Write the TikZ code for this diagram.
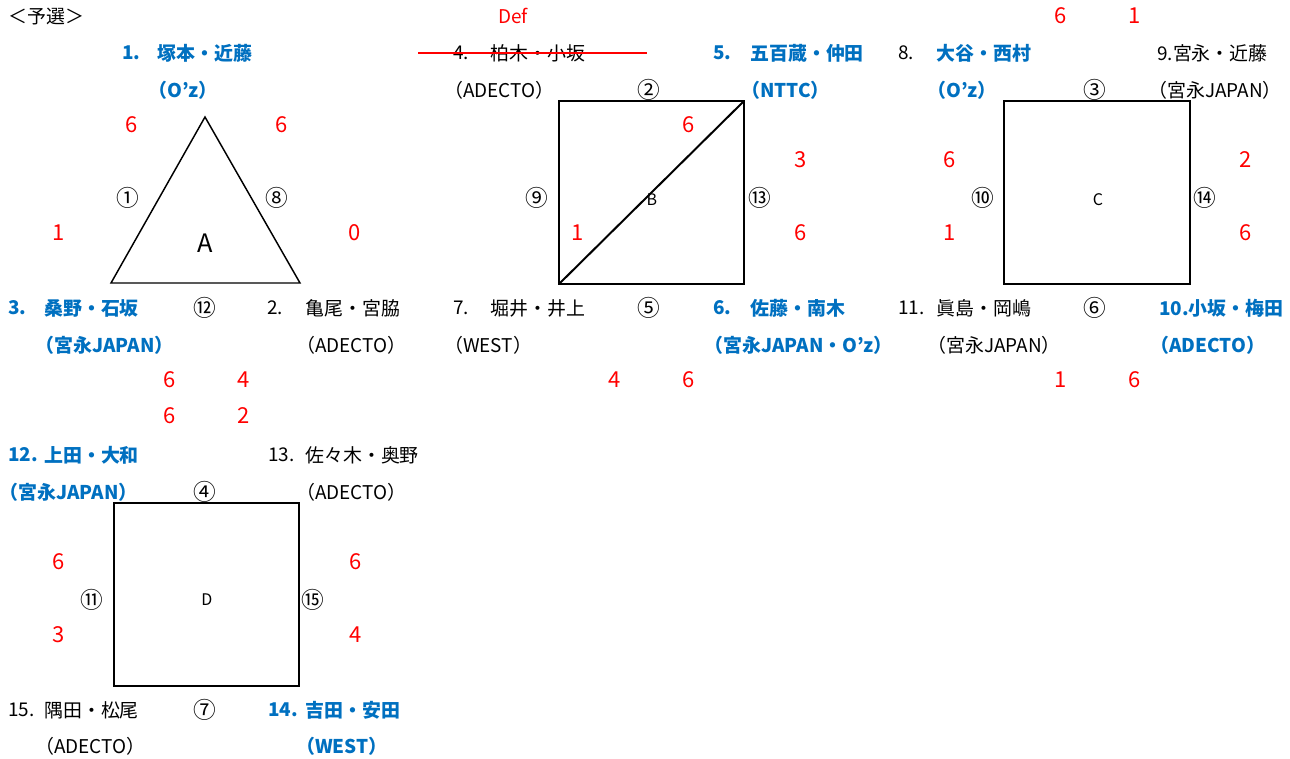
\documentclass[tikz,border=0pt]{standalone}
\usepackage{fontspec}
\setmainfont{Noto Sans CJK JP}
\usetikzlibrary{positioning}
\definecolor{teamBlue}{RGB}{0, 112, 192}
\definecolor{scoreRed}{RGB}{255, 0, 0}

\begin{document}
\begin{tikzpicture}[
    x=0.75pt, y=-0.75pt,
    nameText/.style={anchor=west, inner sep=0pt, text=black, font=\fontsize{14.2}{17}\selectfont},
    winText/.style={nameText, text=teamBlue, font=\fontsize{14.2}{17}\selectfont\bfseries},
    scoreText/.style={inner sep=0pt, text=scoreRed, font=\fontsize{16.5}{19}\selectfont},
    matchNo/.style={inner sep=0pt, text=black, font=\fontsize{17}{19}\selectfont},
    poolName/.style={inner sep=0pt, text=black, font=\fontsize{12}{14}\selectfont},
    boxLine/.style={draw=black, line width=2.2pt}
  ]
    \useasboundingbox (0,0) rectangle (1290,758);
    \node[nameText] (title) at (8,16) {＜予選＞};

    % Pool A: triangle
    \coordinate (aTop) at (205,117);
    \coordinate (aLeft) at (111,283);
    \coordinate (aRight) at (300,283);
    \draw[line width=1.1pt] (aTop) -- (aLeft) -- (aRight) -- cycle;
    \node[poolName, font=\fontsize{19}{21}\selectfont] (poolA) at (205,243) {A};

    \node[winText] (t1num) at (122,53) {1.};
    \node[winText] (t1name) at (157,53) {塚本・近藤};
    \node[winText] (t1team) at (148,90) {（O’z）};
    \node[winText] (t3num) at (8,308) {3.};
    \node[winText] (t3name) at (44,308) {桑野・石坂};
    \node[winText] (t3team) at (35,345) {（宮永JAPAN）};
    \node[nameText] (t2num) at (267,308) {2.};
    \node[nameText] (t2name) at (305,308) {亀尾・宮脇};
    \node[nameText] (t2team) at (296,345) {（ADECTO）};

    \node[matchNo] (m1) at (128,198) {①};
    \node[matchNo] (m8) at (277,198) {⑧};
    \node[matchNo] (m12) at (205,308) {⑫};
    \node[scoreText] (s1a) at (132,125) {6};
    \node[scoreText] (s8a) at (282,125) {6};
    \node[scoreText] (s1b) at (59,233) {1};
    \node[scoreText] (s8b) at (355,233) {0};
    \node[scoreText] (s12a) at (170,380) {6};
    \node[scoreText] (s12b) at (244,380) {4};
    \node[scoreText] (s12c) at (170,416) {6};
    \node[scoreText] (s12d) at (244,416) {2};

    % Pool B: square with diagonal
    \coordinate (bNW) at (559,101);
    \coordinate (bNE) at (744,101);
    \coordinate (bSW) at (559,284);
    \coordinate (bSE) at (744,284);
    \draw[boxLine] (bNW) rectangle (bSE);
    \draw[line width=1.5pt] (bSW) -- (bNE);
    \node[poolName] (poolB) at (652,200) {B};

    \node[scoreText, font=\fontsize{14.2}{17}\selectfont] (def) at (513,16) {Def};
    \node[nameText] (t4num) at (453,53) {4.};
    \node[nameText] (t4name) at (490,53) {柏木・小坂};
    \coordinate (strikeL) at (418,53);
    \coordinate (strikeR) at (647,53);
    \draw[scoreRed, line width=2.2pt] (strikeL) -- (strikeR);
    \node[nameText] (t4team) at (444,90) {（ADECTO）};
    \node[winText] (t5num) at (713,53) {5.};
    \node[winText] (t5name) at (750,53) {五百蔵・仲田};
    \node[winText] (t5team) at (741,90) {（NTTC）};
    \node[nameText] (t7num) at (453,308) {7.};
    \node[nameText] (t7name) at (490,308) {堀井・井上};
    \node[nameText] (t7team) at (444,345) {（WEST）};
    \node[winText] (t6num) at (713,308) {6.};
    \node[winText] (t6name) at (750,308) {佐藤・南木};
    \node[winText] (t6team) at (704,345) {（宮永JAPAN・O'z）};

    \node[matchNo] (m2) at (649,90) {②};
    \node[matchNo] (m9) at (537,198) {⑨};
    \node[matchNo] (m13) at (760,198) {⑬};
    \node[matchNo] (m5) at (649,308) {⑤};
    \node[scoreText] (s2) at (689,125) {6};
    \node[scoreText] (s9) at (578,233) {1};
    \node[scoreText] (s13a) at (801,160) {3};
    \node[scoreText] (s13b) at (801,233) {6};
    \node[scoreText] (s5a) at (615,380) {4};
    \node[scoreText] (s5b) at (689,380) {6};

    % Pool C: square
    \coordinate (cNW) at (1004,101);
    \coordinate (cSE) at (1190,284);
    \draw[boxLine] (cNW) rectangle (cSE);
    \node[poolName] (poolC) at (1098,200) {C};

    \node[nameText] (t8num) at (898,53) {8.};
    \node[winText] (t8name) at (936,53) {大谷・西村};
    \node[winText] (t8team) at (927,90) {（O’z）};
    \node[nameText] (t9name) at (1157,53) {9.宮永・近藤};
    \node[nameText] (t9team) at (1148,90) {（宮永JAPAN）};
    \node[nameText] (t11num) at (898,308) {11.};
    \node[nameText] (t11name) at (936,308) {眞島・岡嶋};
    \node[nameText] (t11team) at (927,345) {（宮永JAPAN）};
    \node[winText] (t10name) at (1159,308) {10.小坂・梅田};
    \node[winText] (t10team) at (1150,345) {（ADECTO）};

    \node[matchNo] (m3) at (1095,90) {③};
    \node[matchNo] (m10) at (983,198) {⑩};
    \node[matchNo] (m14) at (1205,198) {⑭};
    \node[matchNo] (m6) at (1095,308) {⑥};
    \node[scoreText] (s3a) at (1061,16) {6};
    \node[scoreText] (s3b) at (1135,16) {1};
    \node[scoreText] (s10a) at (950,160) {6};
    \node[scoreText] (s10b) at (950,233) {1};
    \node[scoreText] (s14a) at (1246,160) {2};
    \node[scoreText] (s14b) at (1246,233) {6};
    \node[scoreText] (s6a) at (1061,380) {1};
    \node[scoreText] (s6b) at (1135,380) {6};

    % Pool D: square
    \coordinate (dNW) at (114,503);
    \coordinate (dSE) at (299,686);
    \draw[boxLine] (dNW) rectangle (dSE);
    \node[poolName] (poolD) at (207,600) {D};

    \node[winText] (t12num) at (8,455) {12.};
    \node[winText] (t12name) at (44,455) {上田・大和};
    \node[winText] (t12team) at (-1,492) {（宮永JAPAN）};
    \node[nameText] (t13num) at (268,455) {13.};
    \node[nameText] (t13name) at (305,455) {佐々木・奥野};
    \node[nameText] (t13team) at (296,492) {（ADECTO）};
    \node[nameText] (t15num) at (8,710) {15.};
    \node[nameText] (t15name) at (44,710) {隅田・松尾};
    \node[nameText] (t15team) at (35,746) {（ADECTO）};
    \node[winText] (t14num) at (268,710) {14.};
    \node[winText] (t14name) at (305,710) {吉田・安田};
    \node[winText] (t14team) at (296,746) {（WEST）};

    \node[matchNo] (m4) at (205,492) {④};
    \node[matchNo] (m11) at (92,600) {⑪};
    \node[matchNo] (m15) at (313,600) {⑮};
    \node[matchNo] (m7) at (205,710) {⑦};
    \node[scoreText] (s11a) at (59,562) {6};
    \node[scoreText] (s11b) at (59,635) {3};
    \node[scoreText] (s15a) at (356,562) {6};
    \node[scoreText] (s15b) at (356,635) {4};
\end{tikzpicture}
\end{document}
